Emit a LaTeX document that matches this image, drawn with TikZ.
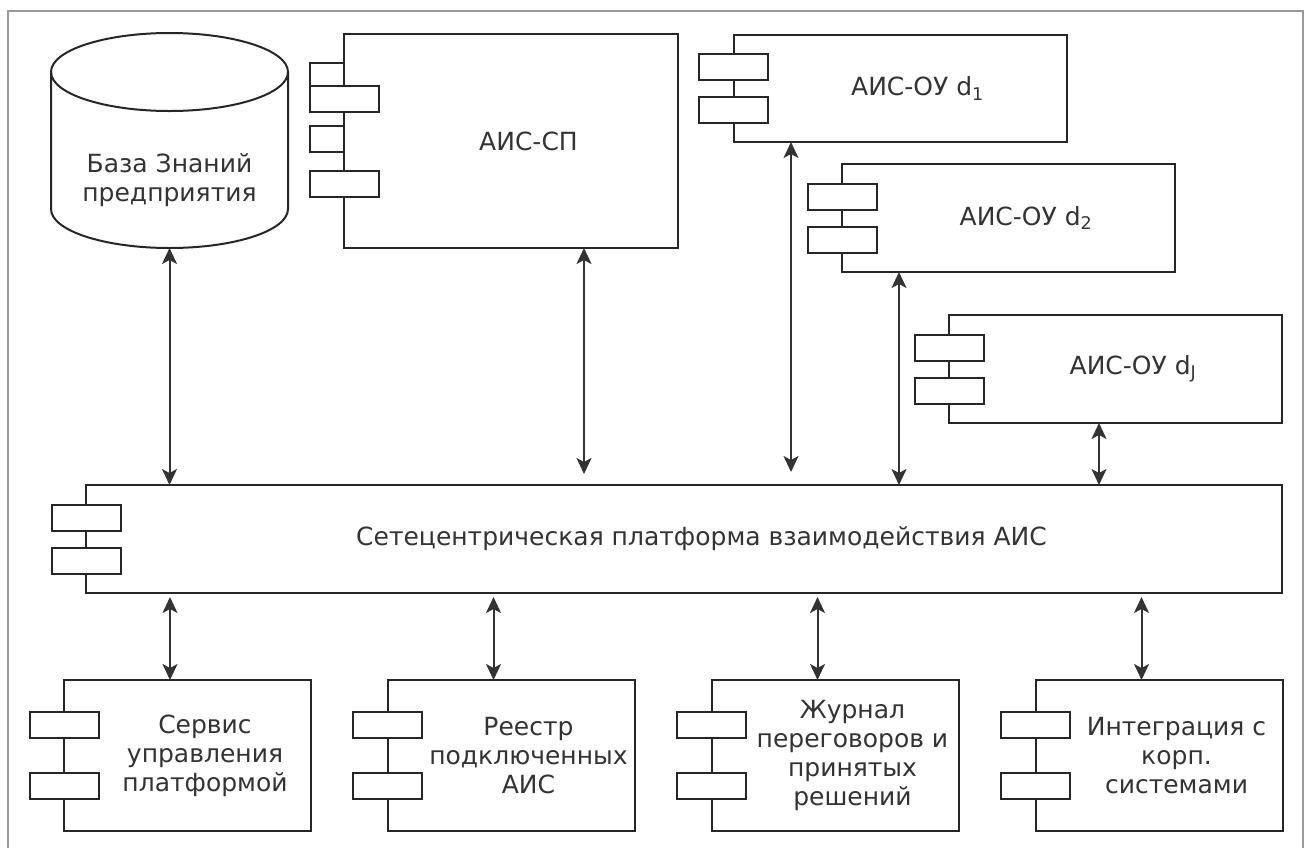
\documentclass[tikz,border=0pt]{standalone}
\usepackage{fontspec}
\setmainfont{DejaVu Sans}
\usetikzlibrary{arrows.meta}
\tikzstyle{every node}=[inner sep=0pt,outer sep=0pt,text=black!80]
\tikzstyle{comp}=[draw=black!85,line width=2pt,fill=white,minimum width=333pt,minimum height=108pt]
\tikzstyle{service}=[comp,minimum width=247pt,minimum height=151pt]
\tikzstyle{port}=[draw=black!85,line width=2pt,fill=white,minimum width=69pt,minimum height=26pt]
\tikzstyle{halfport}=[port,minimum width=34pt,anchor=east]
\tikzstyle{link}=[<->,>={Stealth[length=16pt,width=15pt,inset=4pt]},draw=black!80,line width=2pt]
\tikzstyle{frame}=[draw=black!40,line width=2pt]

\begin{document}
\begin{tikzpicture}[x=1pt,y=-1pt,font=\fontsize{25}{29}\selectfont]
	\useasboundingbox (0,0) rectangle (1308,847);
	\draw[frame] (8,11) rectangle (1303,880);

	% knowledge base
	\draw[draw=black!85,line width=2pt] (169.5,72) ellipse [x radius=118.5pt,y radius=39pt];
	\draw[draw=black!85,line width=2pt] (51,72) -- (51,209)
	  arc [start angle=180,end angle=360,x radius=118.5pt,y radius=39pt] -- (288,72);
	\node[align=center] (kb) at (169.5,180) {База Знаний\\предприятия};
	\coordinate (kbb) at (169.5,248);

	% AIS-SP
	\node[comp,minimum width=334pt,minimum height=214pt,label={[xshift=17.5pt]center:АИС-СП}] (sp) at (511,141) {};
	\node[halfport] at ([yshift=-41.5pt]sp.north west) {};
	\node[port] at ([yshift=-64.5pt]sp.north west) {};
	\node[halfport] at ([yshift=-104.5pt]sp.north west) {};
	\node[port] at ([yshift=-150pt]sp.north west) {};

	% AIS-OU
	\node[comp,minimum height=107pt,label={[xshift=17.5pt]center:АИС-ОУ d\textsubscript{1}}] (d1) at (900,88.5) {};
	\node[port] at ([yshift=21.5pt]d1.west) {};
	\node[port] at ([yshift=-21.5pt]d1.west) {};
	\node[comp,label={[xshift=17.5pt]center:АИС-ОУ d\textsubscript{2}}] (d2) at (1008.5,218) {};
	\node[port] at ([yshift=21.5pt]d2.west) {};
	\node[port] at ([yshift=-21.5pt]d2.west) {};
	\node[comp,label={[xshift=17.5pt]center:АИС-ОУ d\textsubscript{J}}] (dj) at (1115.5,369) {};
	\node[port] at ([yshift=21.5pt]dj.west) {};
	\node[port] at ([yshift=-21.5pt]dj.west) {};

	% platform
	\node[comp,minimum width=1196pt,label={[xshift=17.5pt]center:Сетецентрическая платформа взаимодействия АИС}] (plat) at (684,539) {};
	\node[port] at ([yshift=21.5pt]plat.west) {};
	\node[port] at ([yshift=-21.5pt]plat.west) {};

	% services
	\node[service,label={[xshift=17.5pt,align=center]center:{Сервис\\управления\\платформой}}] (b1) at (187.5,755.5) {};
	\node[service,label={[xshift=17.5pt,align=center]center:{Реестр\\подключенных\\АИС}}] (b2) at (511,755.5) {};
	\node[service,label={[xshift=17.5pt,align=center]center:{Журнал\\переговоров и\\принятых\\решений}}] (b3) at (835,755.5) {};
	\node[service,label={[xshift=17.5pt,align=center]center:{Интеграция с\\корп.\\системами}}] (b4) at (1159,755.5) {};
	\foreach \b in {b1,b2,b3,b4}{
	  \node[port] at ([yshift=30.5pt]\b.west) {};
	  \node[port] at ([yshift=-30.5pt]\b.west) {};
	}

	% links
	\coordinate (spout) at ([xshift=73pt]sp.south);
	\coordinate (d1out) at ([xshift=-109pt]d1.south);
	\coordinate (d2out) at ([xshift=-109.5pt]d2.south);
	\coordinate (djout) at ([xshift=-16.5pt]dj.south);
	\draw[link] (kbb) -- (kbb |- plat.north);
	\draw[link,shorten >=11pt] (spout) -- (spout |- plat.north);
	\draw[link,shorten >=13pt] (d1out) -- (d1out |- plat.north);
	\draw[link] (d2out) -- (d2out |- plat.north);
	\draw[link] (djout) -- (djout |- plat.north);
	\foreach \b in {b1,b2,b3,b4}{
	  \coordinate (\b in) at ([xshift=-17.5pt]\b.north);
	  \draw[link,shorten <=4pt] (\b in |- plat.south) -- (\b in);
	}
\end{tikzpicture}
\end{document}
